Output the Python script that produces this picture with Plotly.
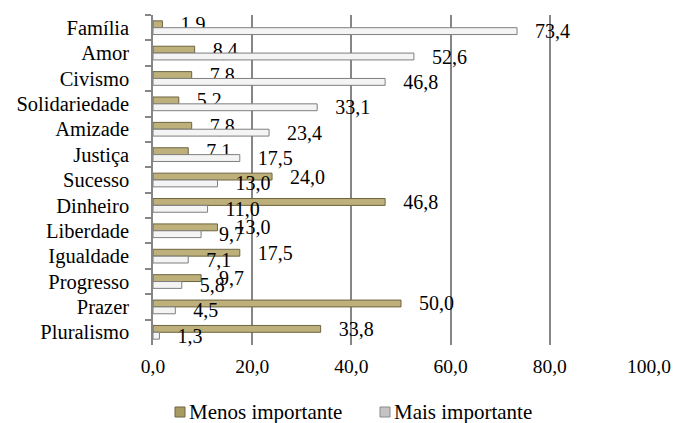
import plotly.graph_objects as go

categories = ["Família", "Amor", "Civismo", "Solidariedade", "Amizade", "Justiça",
              "Sucesso", "Dinheiro", "Liberdade", "Igualdade", "Progresso", "Prazer",
              "Pluralismo"]
menos_importante = [1.9, 8.4, 7.8, 5.2, 7.8, 7.1, 24.0, 46.8, 13.0, 17.5, 9.7, 50.0, 33.8]
mais_importante = [73.4, 52.6, 46.8, 33.1, 23.4, 17.5, 13.0, 11.0, 9.7, 7.1, 5.8, 4.5, 1.3]
x_ticks = [0, 20, 40, 60, 80, 100]
series_names = ["Menos importante", "Mais importante"]

FONT = "Liberation Serif, DejaVu Serif, serif"
GOLD, GOLD_EDGE = "#bdb07b", "#6e6440"
WHITE, WHITE_EDGE = "#f4f4f4", "#7f7f7f"

W, H = 676, 423
ML, MR, MT, MB = 153, 27, 15, 78
PW, PH = W - ML - MR, H - MT - MB


def px_to_paper(px, py):
    """Convert canvas pixels to paper coordinates."""
    return (px - ML) / PW, (H - MB - py) / PH


fig = go.Figure()
fig.add_trace(go.Bar(
    name=series_names[0], y=categories, x=menos_importante, orientation="h",
    marker=dict(color=GOLD, line=dict(color=GOLD_EDGE, width=1)),
    texttemplate="   %{x:.1f}", textposition="outside", constraintext="none",
    cliponaxis=False, textfont=dict(size=20, color="#000000", family=FONT),
    showlegend=False,
))
fig.add_trace(go.Bar(
    name=series_names[1], y=categories, x=mais_importante, orientation="h",
    marker=dict(color=WHITE, line=dict(color=WHITE_EDGE, width=1)),
    texttemplate="   %{x:.1f}", textposition="outside", constraintext="none",
    cliponaxis=False, textfont=dict(size=20, color="#000000", family=FONT),
    showlegend=False,
))

# legend drawn as small squares followed by text
legend_items = [
    (175, "#a89b62", GOLD_EDGE, series_names[0]),
    (380, "#c4c4c4", "#8a8a8a", series_names[1]),
]
shapes, annotations = [], []
for sx, fill, edge, label in legend_items:
    x0, y0 = px_to_paper(sx, 417)
    x1, y1 = px_to_paper(sx + 10, 407)
    shapes.append(dict(type="rect", xref="paper", yref="paper", x0=x0, y0=y0, x1=x1, y1=y1,
                       fillcolor=fill, line=dict(color=edge, width=1)))
    tx, ty = px_to_paper(sx + 12, 412)
    annotations.append(dict(xref="paper", yref="paper", x=tx, y=ty, xanchor="left",
                            yanchor="middle", text=label, showarrow=False,
                            font=dict(family=FONT, size=21, color="#000000")))

fig.update_layout(
    width=W, height=H,
    margin=dict(l=ML, r=MR, t=MT, b=MB, autoexpand=False),
    paper_bgcolor="white", plot_bgcolor="white",
    barmode="group", bargap=0.46, bargroupgap=0,
    separators=", ",
    font=dict(family=FONT, size=20, color="#000000"),
    showlegend=False,
    shapes=shapes, annotations=annotations,
    xaxis=dict(range=[0, 100], tickvals=x_ticks, tickformat=".1f",
               showgrid=True, gridcolor="#868686", gridwidth=1.5,
               zeroline=False, showline=False, ticks="", fixedrange=True,
               ticklabelstandoff=7,
               tickfont=dict(family=FONT, size=19.5)),
    yaxis=dict(autorange="reversed", showline=True, linecolor="#868686", linewidth=1.5,
               ticks="outside", tickson="boundaries", ticklen=6, tickcolor="#868686",
               tickwidth=1.5, ticklabelstandoff=18, showgrid=False,
               tickfont=dict(family=FONT, size=20.5)),
)

fig.write_html("out.html")
